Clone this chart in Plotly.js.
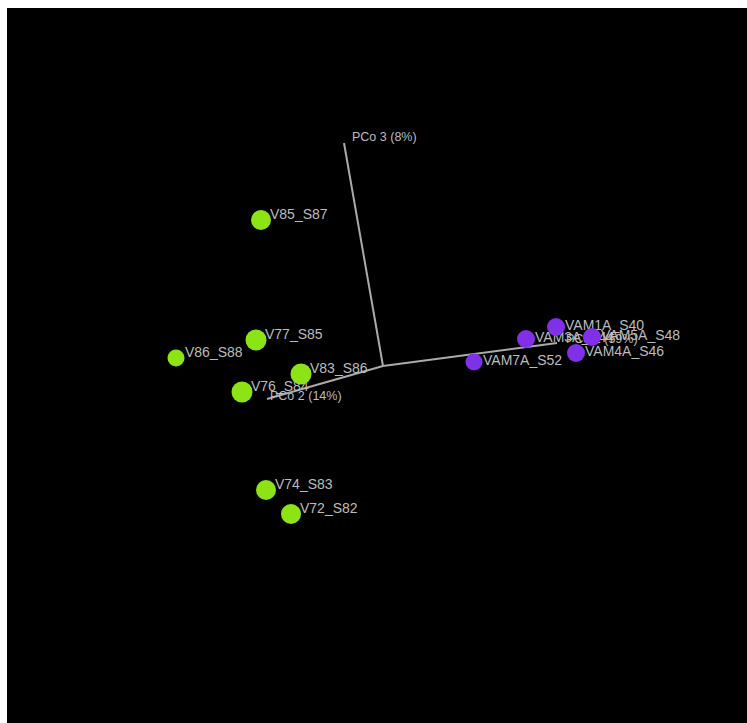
<!DOCTYPE html>
<html>
<head>
<meta charset="utf-8">
<script src="https://cdn.plot.ly/plotly-3.0.1.min.js"></script>
<style>html,body{margin:0;padding:0;background:#fff;}#plot{width:747px;height:723px;}</style>
</head>
<body>
<div id="plot"></div>
<script>
// Projected PCoA coordinates (screen-plane projection of the 3D ordination)
const greenIds = ["V85_S87", "V77_S85", "V86_S88", "V83_S86", "V76_S84", "V74_S83", "V72_S82"];
const greenX = [-122, -127, -207, -82, -141, -117, -92];
const greenY = [146, 26, 8, -8, -26, -124, -148];
const greenSize = [20, 21, 17, 21, 21, 20, 20];

const purpleIds = ["VAM1A_S40", "VAM3A_S44", "VAM5A_S48", "VAM4A_S46", "VAM7A_S52"];
const purpleX = [173, 143, 209, 193, 91];
const purpleY = [39, 27, 29, 13, 4];
const purpleSize = [18, 18, 18, 18, 17];

// Axis ends (origin at 0,0)
const axisNames = ["PCo 1 (59%)", "PCo 2 (14%)", "PCo 3 (8%)"];
const axisEndX = [174, -116, -39];
const axisEndY = [23, -33, 223];

// label placement offsets (pixels == data units here)
const axisLabelDX = [9, 3, 8];
const axisLabelDY = [3, 2, 5];
const greenLabelDX = 9, greenLabelDY = 5;
const purpleLabelDX = 9, purpleLabelDY = 1;

const labelColor = "#bcbcbc";
const font = "Liberation Sans, Arial, sans-serif";
const traces = [];

for (let i = 0; i < axisNames.length; i++) {
  traces.push({
    type: "scatter", mode: "lines",
    x: [0, axisEndX[i]], y: [0, axisEndY[i]],
    line: {color: "#aaaaaa", width: 2},
    hoverinfo: "skip", showlegend: false
  });
}
traces.push({
  type: "scatter", mode: "text",
  x: axisEndX.map((v, i) => v + axisLabelDX[i]),
  y: axisEndY.map((v, i) => v + axisLabelDY[i]),
  text: axisNames, textposition: "middle right",
  textfont: {family: font, size: 12.5, color: labelColor},
  hoverinfo: "skip", showlegend: false
});
traces.push({
  type: "scatter", mode: "text",
  x: greenX.map(v => v + greenLabelDX), y: greenY.map(v => v + greenLabelDY),
  text: greenIds, textposition: "middle right",
  textfont: {family: font, size: 14, color: labelColor},
  hoverinfo: "skip", showlegend: false
});
traces.push({
  type: "scatter", mode: "text",
  x: purpleX.map(v => v + purpleLabelDX), y: purpleY.map(v => v + purpleLabelDY),
  text: purpleIds, textposition: "middle right",
  textfont: {family: font, size: 14, color: labelColor},
  hoverinfo: "skip", showlegend: false
});
traces.push({
  type: "scatter", mode: "markers",
  x: greenX, y: greenY,
  marker: {size: greenSize, color: "#8ce414", opacity: 1, line: {width: 0}},
  showlegend: false
});
traces.push({
  type: "scatter", mode: "markers",
  x: purpleX, y: purpleY,
  marker: {size: purpleSize, color: "#8030e8", opacity: 1, line: {width: 0}},
  showlegend: false
});

const layout = {
  width: 747, height: 723,
  margin: {l: 7, t: 8, r: 0, b: 0, pad: 0},
  paper_bgcolor: "#ffffff",
  plot_bgcolor: "#000000",
  xaxis: {range: [-376, 364], visible: false, fixedrange: true},
  yaxis: {range: [-357, 358], visible: false, fixedrange: true},
  showlegend: false
};
Plotly.newPlot("plot", traces, layout, {displayModeBar: false, staticPlot: true});
</script>
</body>
</html>
